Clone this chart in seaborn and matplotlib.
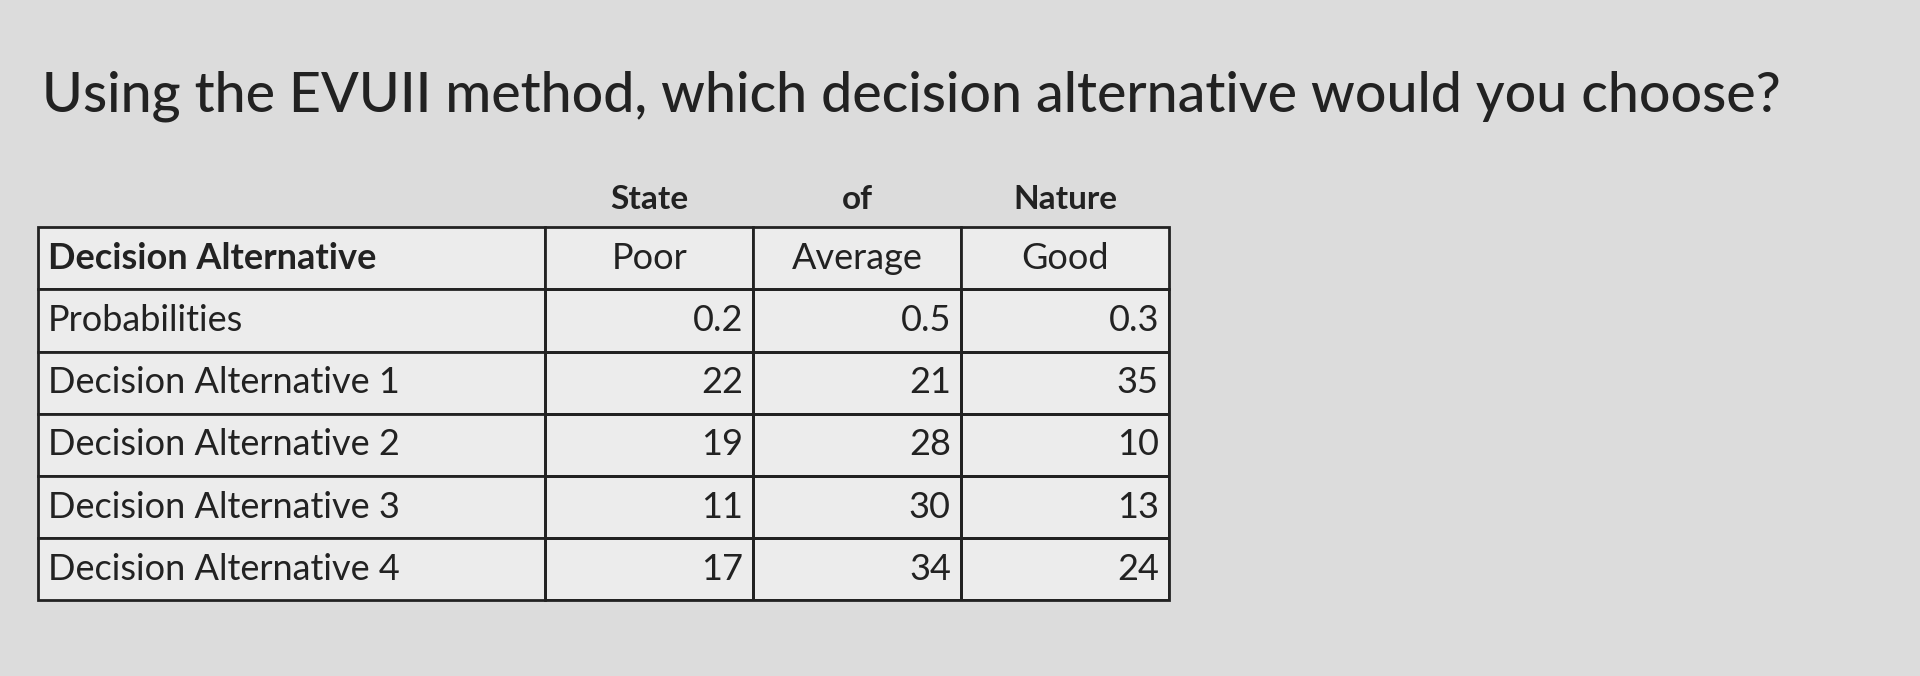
import matplotlib
matplotlib.use("Agg")
import matplotlib.pyplot as plt
import seaborn as sns
import numpy as np
from matplotlib.patches import Rectangle

title = "Using the EVUII method, which decision alternative would you choose?"
states = ["Poor", "Average", "Good"]
super_header = ["State", "of", "Nature"]
row_labels = ["Probabilities", "Decision Alternative 1", "Decision Alternative 2",
              "Decision Alternative 3", "Decision Alternative 4"]
probabilities = [0.2, 0.5, 0.3]
alt1 = [22, 21, 35]
alt2 = [19, 28, 10]
alt3 = [11, 30, 13]
alt4 = [17, 34, 24]

sns.set_theme(style="white")
plt.rcParams['font.family'] = ['Lato', 'DejaVu Sans']
bg = "#dcdcdc"
fig = plt.figure(figsize=(19.2, 6.76), dpi=100, facecolor=bg)
fig.text(0.022, 0.82, title, fontsize=40, color="#222222", ha="left", va="bottom",
         fontweight="medium")

data = np.array([probabilities, alt1, alt2, alt3, alt4], dtype=float)
annot = np.array([[str(v) for v in probabilities]] +
                 [[str(v) for v in r] for r in (alt1, alt2, alt3, alt4)])
ax = fig.add_axes([0.284, 0.112, 0.325, 0.46])
sns.heatmap(data, ax=ax, cmap=sns.color_palette(["#ececec"], as_cmap=True), cbar=False,
            annot=annot, fmt="", linewidths=2, linecolor="#222222",
            annot_kws={"fontsize": 26, "color": "#222222"},
            xticklabels=False, yticklabels=False)
for t in ax.texts:
    x, y = t.get_position()
    t.set_position((x + 0.45, y))
    t.set_ha("right")

lw = 2
ext = -2.44
for i in range(-1, 5):
    ax.add_patch(Rectangle((ext, i), -ext, 1, facecolor="#ececec", edgecolor="#222222",
                           lw=lw, clip_on=False))
for j in range(3):
    ax.add_patch(Rectangle((j, -1), 1, 1, facecolor="#ececec", edgecolor="#222222",
                           lw=lw, clip_on=False))
    ax.text(j + 0.5, -0.5, states[j], ha="center", va="center", fontsize=26, color="#222222")
    ax.text(j + 0.5, -1.45, super_header[j], ha="center", va="center", fontsize=24,
            fontweight="bold", color="#222222")
ax.add_patch(Rectangle((0, 0), 3, 5, facecolor="none", edgecolor="#222222", lw=lw,
                       clip_on=False))
ax.text(ext + 0.05, -0.5, "Decision Alternative", ha="left", va="center", fontsize=26,
        fontweight="bold", color="#222222")
for i, lab in enumerate(row_labels):
    ax.text(ext + 0.05, i + 0.5, lab, ha="left", va="center", fontsize=26, color="#222222")
ax.set_xlim(0, 3)
ax.set_ylim(5, 0)
fig.savefig("out.png", dpi=100, facecolor=bg)
